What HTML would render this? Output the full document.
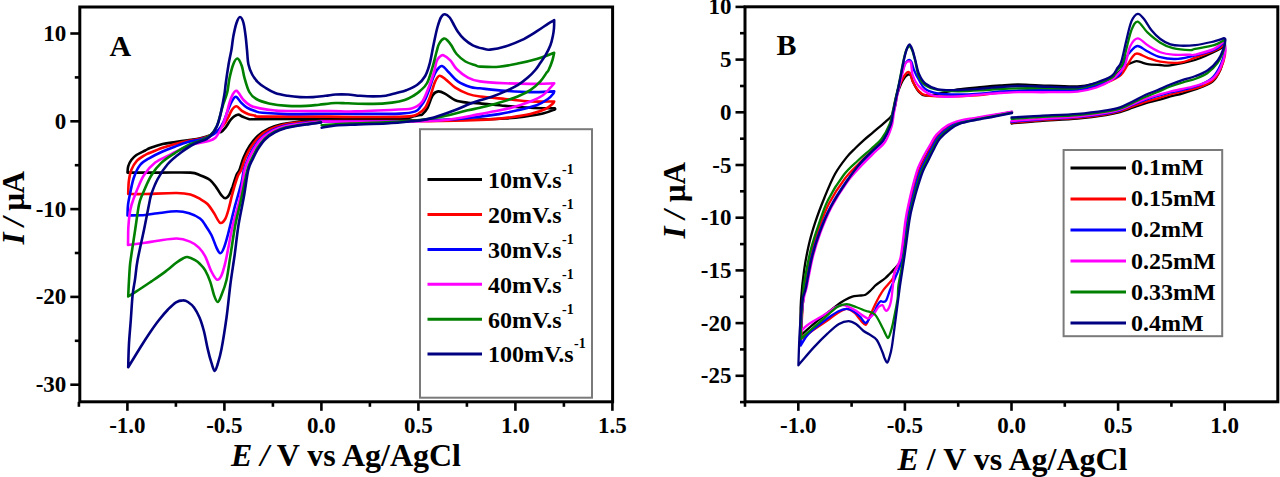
<!DOCTYPE html>
<html><head><meta charset="utf-8"><style>
html,body{margin:0;padding:0;background:#fff;}
svg{display:block;}
</style></head><body>
<svg width="1280" height="477" viewBox="0 0 1280 477">
<rect width="1280" height="477" fill="#fff"/>
<g fill="none" stroke-width="2.6" stroke-linejoin="round" stroke-linecap="round">
<path d="M321.0,120.6 C318.8,120.7 312.2,120.9 307.8,121.2 C303.4,121.5 299.0,121.7 294.6,122.2 C290.2,122.7 285.8,123.3 281.5,124.3 C277.2,125.3 272.9,126.5 269.0,128.4 C265.1,130.3 261.2,132.8 258.0,135.7 C254.8,138.6 252.1,142.2 249.7,145.8 C247.3,149.4 245.3,153.4 243.6,157.4 C241.9,161.4 240.6,167.1 239.4,170.0 C238.2,172.9 237.6,172.3 236.5,175.0 C235.4,177.7 233.9,183.0 232.7,186.4 C231.4,189.8 230.2,193.2 229.0,195.2 C227.8,197.2 226.5,198.3 225.2,198.3 C223.9,198.3 222.9,197.0 221.4,195.2 C219.9,193.4 218.3,190.1 216.4,187.6 C214.5,185.1 212.7,182.1 210.0,180.0 C207.3,177.9 203.3,176.4 200.0,175.2 C196.7,174.0 197.1,173.0 190.4,172.6 C183.7,172.2 170.5,172.6 160.0,172.6 C149.5,172.6 132.9,172.6 127.5,172.6 L127.5,172.6 C127.6,171.6 127.6,168.5 128.2,166.4 C128.8,164.3 129.9,161.9 131.3,160.0 C132.7,158.1 134.1,156.6 136.4,155.0 C138.7,153.4 142.9,151.7 145.2,150.5 C147.5,149.3 147.1,149.1 150.0,148.0 C152.9,146.9 158.4,145.0 162.6,144.0 C166.8,143.0 171.0,142.7 175.2,142.1 C179.4,141.5 183.5,140.8 187.7,140.2 C191.9,139.6 196.5,139.1 200.3,138.3 C204.1,137.5 207.8,136.4 210.4,135.2 C213.0,134.0 214.2,131.5 216.0,131.0 C217.8,130.5 219.3,132.7 221.0,132.0 C222.7,131.3 224.3,129.0 226.0,126.9 C227.7,124.8 229.1,121.3 231.0,119.3 C232.9,117.3 235.7,115.1 237.7,114.7 C239.7,114.3 241.0,116.1 242.8,116.8 C244.6,117.5 246.6,118.5 248.6,118.9 C250.6,119.3 246.4,119.3 255.0,119.3 C263.6,119.3 283.3,119.1 300.0,118.9 C316.7,118.7 337.5,118.5 355.0,118.3 C372.5,118.1 395.4,118.3 405.0,118.0 C414.6,117.7 409.9,117.1 412.5,116.6 C415.1,116.1 418.7,115.5 420.4,115.1 C422.1,114.7 421.4,115.3 422.6,114.1 C423.8,112.9 425.9,110.9 427.6,107.8 C429.3,104.7 430.9,97.9 432.7,95.2 C434.5,92.5 436.2,91.6 438.3,91.4 C440.4,91.2 442.5,92.4 445.3,93.9 C448.1,95.4 451.5,98.7 455.3,100.2 C459.1,101.7 463.8,102.2 467.9,102.7 C472.0,103.2 473.8,102.9 480.0,103.4 C486.2,103.9 496.8,105.2 505.2,105.9 C513.6,106.6 522.0,107.4 530.3,107.8 C538.6,108.2 550.7,108.3 554.8,108.4 L554.8,108.4 C554.7,108.6 556.2,108.9 554.2,109.7 C552.2,110.5 547.9,112.3 542.9,113.5 C537.9,114.7 530.3,115.8 524.0,116.6 C517.7,117.4 512.5,118.0 505.2,118.5 C497.9,119.0 490.9,119.2 480.0,119.5 C469.1,119.8 453.3,119.8 440.0,120.0 C426.7,120.2 419.7,120.4 400.0,120.5 C380.3,120.6 334.8,120.5 321.7,120.5" stroke="#000000" />
<path d="M321.0,121.0 C318.9,121.1 312.4,121.5 308.1,121.8 C303.8,122.1 299.5,122.4 295.2,122.9 C290.9,123.4 286.6,124.0 282.4,125.0 C278.2,126.0 274.0,127.3 270.2,129.2 C266.4,131.1 262.6,133.5 259.5,136.4 C256.4,139.3 253.8,142.9 251.4,146.4 C249.1,149.9 247.1,153.8 245.4,157.7 C243.7,161.6 242.5,166.9 241.2,170.0 C239.9,173.1 239.1,172.5 237.7,176.3 C236.3,180.1 234.1,187.4 232.7,192.6 C231.2,197.8 230.2,203.3 229.0,207.7 C227.8,212.1 226.7,216.5 225.2,219.0 C223.7,221.5 222.0,223.8 220.1,222.8 C218.2,221.8 215.9,215.9 213.8,212.8 C211.7,209.7 209.8,206.3 207.5,204.0 C205.2,201.7 202.8,200.5 200.0,198.9 C197.2,197.3 194.3,195.5 190.4,194.5 C186.5,193.5 184.2,193.1 176.6,193.0 C169.0,192.9 153.1,193.8 145.0,194.0 C136.9,194.2 131.0,194.0 128.2,194.0 L128.2,194.0 C128.3,191.9 128.3,185.4 128.8,181.4 C129.3,177.4 130.0,173.3 131.3,170.0 C132.6,166.7 134.1,163.8 136.4,161.3 C138.7,158.8 142.9,156.4 145.2,155.0 C147.5,153.6 147.1,154.0 150.0,152.8 C152.9,151.6 158.4,149.3 162.6,147.8 C166.8,146.3 171.0,145.1 175.2,144.0 C179.4,142.9 183.5,141.9 187.7,141.0 C191.9,140.1 196.5,139.7 200.3,138.8 C204.1,137.9 207.5,136.9 210.4,135.5 C213.3,134.1 215.7,132.4 218.0,130.5 C220.3,128.6 222.6,126.3 224.3,124.0 C226.1,121.7 227.2,119.1 228.5,116.8 C229.8,114.5 230.5,111.8 231.8,110.1 C233.1,108.3 234.8,106.2 236.5,106.3 C238.2,106.4 239.9,109.6 241.9,110.9 C243.9,112.2 246.4,113.5 248.6,114.3 C250.8,115.1 252.7,115.2 255.0,115.6 C257.3,116.0 250.1,116.4 262.6,116.6 C275.1,116.8 314.6,116.5 330.0,116.6 C345.4,116.7 342.5,117.0 355.0,117.0 C367.5,117.0 394.6,117.1 405.0,116.6 C415.4,116.1 414.2,115.6 417.6,114.1 C421.0,112.6 423.0,110.8 425.1,107.8 C427.2,104.8 428.5,100.8 430.2,96.4 C431.9,92.0 433.6,84.9 435.2,81.4 C436.8,78.0 437.7,75.9 439.6,75.7 C441.5,75.5 443.9,78.1 446.5,80.1 C449.1,82.1 451.7,85.3 455.3,87.6 C458.9,89.9 463.8,92.4 467.9,93.9 C472.0,95.4 473.8,95.7 480.0,96.5 C486.2,97.3 496.8,98.2 505.2,99.0 C513.6,99.8 522.1,101.1 530.3,101.5 C538.5,101.9 550.2,101.5 554.2,101.5 L554.2,101.5 C554.0,101.8 554.5,102.2 553.0,103.4 C551.5,104.7 549.2,107.2 545.4,109.0 C541.6,110.8 536.0,112.7 530.3,114.1 C524.6,115.5 519.8,116.2 511.4,117.2 C503.0,118.2 491.9,119.4 480.0,120.0 C468.1,120.6 453.3,120.8 440.0,121.0 C426.7,121.2 419.7,121.0 400.0,121.0 C380.3,121.0 334.8,121.0 321.7,121.0" stroke="#ff0000" />
<path d="M321.0,121.5 C318.9,121.7 312.6,122.2 308.5,122.6 C304.4,123.0 300.2,123.4 296.1,124.0 C292.0,124.6 287.7,125.0 283.7,126.1 C279.7,127.2 275.6,128.5 271.9,130.4 C268.2,132.3 264.7,134.7 261.7,137.5 C258.7,140.3 256.1,143.8 253.9,147.2 C251.7,150.6 249.9,154.4 248.2,158.2 C246.5,162.0 245.0,165.9 243.9,170.0 C242.8,174.1 242.9,176.7 241.5,182.6 C240.1,188.5 237.1,198.1 235.2,205.2 C233.3,212.3 231.5,220.0 230.3,225.0 C229.1,230.0 228.9,231.2 227.8,235.0 C226.8,238.8 225.2,244.5 224.0,247.6 C222.8,250.7 221.6,253.3 220.3,253.3 C219.1,253.3 218.0,250.7 216.5,247.6 C215.0,244.5 213.3,238.8 211.4,235.0 C209.5,231.2 207.1,227.8 205.2,225.0 C203.3,222.2 202.7,220.5 200.0,218.5 C197.3,216.5 193.1,214.4 189.2,213.2 C185.3,212.0 181.8,211.3 176.6,211.3 C171.3,211.3 162.9,212.6 157.7,213.2 C152.5,213.8 150.2,214.6 145.2,215.0 C140.2,215.4 130.4,215.4 127.5,215.5 L127.5,215.5 C127.6,213.8 127.6,208.6 128.0,205.0 C128.4,201.4 129.0,198.6 130.0,194.0 C131.0,189.4 132.1,182.5 133.8,177.7 C135.5,172.9 137.4,168.3 140.1,165.0 C142.8,161.7 146.2,160.1 150.0,157.8 C153.8,155.6 158.4,153.4 162.6,151.5 C166.8,149.6 171.0,148.1 175.2,146.5 C179.4,144.9 183.5,143.3 187.7,142.1 C191.9,140.9 196.5,140.5 200.3,139.5 C204.1,138.5 207.5,137.5 210.4,136.0 C213.3,134.5 215.8,132.8 218.0,130.5 C220.2,128.2 221.8,125.4 223.5,122.0 C225.2,118.6 226.6,113.5 228.0,110.0 C229.4,106.5 230.7,103.2 232.0,101.0 C233.3,98.8 234.5,96.4 236.0,96.7 C237.5,97.0 239.3,100.8 241.1,102.6 C242.9,104.4 244.7,106.2 247.0,107.6 C249.3,109.0 252.4,110.1 255.0,111.0 C257.6,111.9 257.2,112.3 262.6,112.8 C268.1,113.3 276.5,113.9 287.7,114.1 C298.9,114.2 318.8,113.7 330.0,113.7 C341.2,113.7 343.3,113.9 355.0,113.9 C366.7,113.9 389.9,114.0 400.0,113.6 C410.1,113.2 411.9,112.7 415.4,111.4 C418.9,110.1 419.3,108.1 421.0,106.0 C422.7,103.9 424.1,101.7 425.4,99.0 C426.7,96.3 427.7,93.5 429.0,90.0 C430.3,86.5 431.7,81.3 433.0,78.0 C434.3,74.7 435.5,72.0 437.0,70.0 C438.5,68.0 440.0,65.6 442.0,66.0 C444.0,66.4 446.4,69.9 449.0,72.5 C451.6,75.1 454.2,79.0 457.8,81.4 C461.4,83.8 466.7,85.8 470.4,87.0 C474.1,88.2 474.2,87.7 480.0,88.3 C485.8,88.9 496.8,90.2 505.2,90.8 C513.6,91.4 522.1,92.0 530.3,92.1 C538.5,92.2 550.2,91.5 554.2,91.4 L554.2,91.4 C554.0,91.8 554.0,92.7 553.0,94.0 C552.0,95.3 550.6,97.1 547.9,99.0 C545.2,100.9 541.6,103.4 536.6,105.3 C531.6,107.2 524.0,108.8 517.7,110.3 C511.4,111.8 505.2,113.0 498.9,114.1 C492.6,115.1 488.1,115.7 480.0,116.6 C471.9,117.5 463.3,118.7 450.0,119.5 C436.7,120.3 421.4,121.0 400.0,121.3 C378.6,121.6 334.8,121.5 321.7,121.5" stroke="#0000ff" />
<path d="M321.0,121.7 C318.9,121.9 312.8,122.5 308.7,122.9 C304.6,123.3 300.4,123.7 296.3,124.3 C292.2,124.9 288.2,125.4 284.2,126.5 C280.2,127.6 276.1,128.9 272.5,130.8 C268.9,132.7 265.3,135.0 262.4,137.8 C259.4,140.6 257.0,144.1 254.8,147.5 C252.6,150.9 250.8,154.7 249.1,158.4 C247.4,162.2 246.2,163.4 244.7,170.0 C243.2,176.6 242.0,188.8 240.0,198.0 C238.0,207.2 234.6,217.3 232.8,225.0 C231.0,232.7 230.3,237.6 229.1,243.9 C227.8,250.2 226.6,257.5 225.3,262.7 C224.0,267.9 222.9,272.5 221.5,275.3 C220.1,278.1 218.8,280.3 217.1,279.7 C215.4,279.1 213.4,275.4 211.4,271.5 C209.4,267.6 207.3,260.4 205.2,256.4 C203.1,252.4 201.4,250.1 198.9,247.6 C196.4,245.1 193.7,243.1 190.0,241.6 C186.3,240.1 182.0,238.6 176.6,238.5 C171.2,238.4 162.9,240.1 157.7,240.8 C152.5,241.5 150.1,242.0 145.2,242.7 C140.2,243.4 130.9,244.6 128.0,245.0 L128.0,245.0 C128.1,242.2 128.1,233.0 128.3,228.0 C128.6,223.0 129.0,218.8 129.5,215.0 C130.0,211.2 130.3,208.9 131.5,205.0 C132.7,201.1 134.3,196.5 136.4,191.5 C138.5,186.5 140.8,180.0 143.9,175.2 C147.0,170.4 151.0,165.9 155.2,162.6 C159.4,159.3 164.5,157.6 168.9,155.3 C173.3,153.0 177.2,150.9 181.4,149.0 C185.6,147.1 189.8,145.2 194.0,144.0 C198.2,142.8 203.0,142.6 206.6,141.5 C210.2,140.4 212.9,140.1 215.4,137.7 C217.9,135.3 220.0,130.6 221.8,127.0 C223.6,123.4 224.8,119.9 226.0,116.0 C227.2,112.1 228.2,106.9 229.3,103.4 C230.4,99.9 231.3,97.1 232.5,95.0 C233.7,92.9 234.8,90.0 236.6,90.8 C238.4,91.6 241.3,97.5 243.6,100.0 C245.9,102.5 247.6,104.1 250.3,105.5 C253.0,106.9 255.9,107.6 260.0,108.4 C264.1,109.2 270.4,110.1 275.0,110.5 C279.6,110.9 278.5,110.9 287.7,111.0 C296.9,111.1 318.8,110.9 330.0,111.0 C341.2,111.1 343.6,111.7 355.0,111.4 C366.4,111.2 389.0,110.0 398.4,109.5 C407.8,109.0 407.8,109.6 411.6,108.5 C415.4,107.4 418.7,105.8 421.4,102.7 C424.1,99.7 425.5,95.2 427.6,90.2 C429.7,85.2 432.4,77.3 433.9,72.5 C435.4,67.7 435.6,64.1 436.5,61.5 C437.4,58.9 438.4,58.0 439.5,57.0 C440.6,56.0 441.6,54.7 443.4,55.2 C445.2,55.8 448.1,58.0 450.3,60.3 C452.5,62.6 453.7,66.1 456.6,69.0 C459.5,71.9 464.0,75.5 467.9,77.6 C471.8,79.7 473.8,80.5 480.0,81.4 C486.2,82.4 496.8,82.9 505.2,83.3 C513.6,83.7 522.1,83.9 530.3,83.9 C538.5,83.9 550.2,83.4 554.2,83.3 L554.2,83.3 C553.6,84.0 552.3,85.7 550.4,87.7 C548.5,89.7 546.2,92.9 542.9,95.2 C539.5,97.5 535.5,99.4 530.3,101.5 C525.0,103.6 517.7,106.1 511.4,107.8 C505.1,109.5 497.8,110.5 492.6,111.6 C487.4,112.6 488.3,112.6 480.0,114.1 C471.7,115.5 456.0,119.1 442.7,120.3 C429.4,121.5 420.2,121.3 400.0,121.5 C379.8,121.7 334.8,121.5 321.7,121.5" stroke="#ff00ff" />
<path d="M321.0,122.3 C319.0,122.5 313.1,123.3 309.1,123.8 C305.1,124.3 301.1,124.8 297.2,125.4 C293.3,126.0 289.3,126.5 285.5,127.6 C281.7,128.7 277.8,130.1 274.3,132.0 C270.8,133.9 267.4,136.2 264.6,138.9 C261.8,141.6 259.4,145.0 257.3,148.3 C255.2,151.6 253.5,155.3 251.8,158.9 C250.2,162.5 249.2,163.2 247.4,170.0 C245.6,176.8 243.0,190.8 241.0,200.0 C239.0,209.2 237.1,215.6 235.3,225.0 C233.5,234.4 231.8,247.2 230.3,256.4 C228.8,265.6 228.0,273.6 226.5,280.0 C225.0,286.4 223.0,291.4 221.5,295.1 C220.0,298.8 218.9,302.0 217.7,302.0 C216.4,302.0 215.2,298.5 214.0,295.1 C212.8,291.7 211.7,285.7 210.2,281.6 C208.7,277.5 206.9,273.2 205.2,270.3 C203.5,267.4 201.7,265.7 200.0,264.0 C198.3,262.3 197.2,261.4 195.1,260.2 C193.0,259.0 189.5,257.3 187.5,257.0 C185.5,256.7 184.7,257.6 182.9,258.5 C181.1,259.4 179.8,260.1 176.6,262.5 C173.4,264.9 168.2,269.5 164.0,272.6 C159.8,275.8 156.0,278.3 151.4,281.4 C146.8,284.5 140.3,288.9 136.4,291.4 C132.5,293.9 129.6,295.6 128.2,296.5 L128.2,296.5 C128.3,293.8 128.7,285.2 129.0,280.0 C129.3,274.8 129.6,269.1 130.0,265.0 C130.4,260.9 130.5,261.1 131.3,255.3 C132.2,249.5 133.8,238.6 135.1,230.2 C136.4,221.8 137.7,211.0 138.9,205.0 C140.2,199.0 140.5,199.0 142.6,194.0 C144.7,189.0 148.2,180.4 151.4,175.2 C154.6,170.0 157.5,166.3 161.5,162.6 C165.5,158.9 170.8,155.7 175.2,152.8 C179.6,149.9 183.5,147.3 187.7,145.3 C191.9,143.3 196.5,142.5 200.3,140.8 C204.1,139.1 207.7,137.6 210.4,135.2 C213.1,132.8 215.1,129.6 216.7,126.4 C218.3,123.2 218.9,119.6 220.0,116.0 C221.1,112.4 221.8,108.9 223.0,105.0 C224.2,101.1 226.1,97.0 227.2,92.5 C228.3,88.0 228.5,83.0 229.5,78.3 C230.5,73.6 232.0,67.5 233.3,64.2 C234.6,60.9 236.1,58.2 237.5,58.5 C238.9,58.8 240.6,62.7 241.8,66.0 C243.0,69.3 243.3,74.0 244.6,78.3 C245.8,82.6 247.4,88.5 249.3,92.0 C251.2,95.5 253.0,97.1 256.3,99.0 C259.6,100.9 263.7,102.2 268.9,103.4 C274.1,104.6 281.4,105.5 287.7,105.9 C294.0,106.3 301.4,106.1 306.6,105.9 C311.9,105.7 314.4,105.2 319.2,104.7 C324.0,104.2 330.7,103.2 335.5,103.0 C340.3,102.8 341.7,103.1 348.0,103.3 C354.3,103.5 365.9,104.0 373.2,103.9 C380.5,103.8 386.8,103.2 392.0,102.6 C397.2,102.0 401.1,101.3 404.7,100.1 C408.3,98.9 411.3,97.0 413.9,95.5 C416.4,94.0 417.8,93.1 420.0,91.0 C422.2,88.9 425.0,87.1 427.1,83.0 C429.2,78.9 431.1,71.8 432.7,66.6 C434.3,61.4 435.4,55.8 436.5,52.0 C437.6,48.2 437.8,46.2 439.0,44.0 C440.2,41.8 442.5,39.1 444.0,38.6 C445.5,38.1 446.7,39.8 448.0,41.0 C449.3,42.2 450.2,43.6 451.6,45.8 C453.0,48.0 454.3,51.4 456.6,54.0 C458.9,56.6 462.2,59.6 465.4,61.5 C468.5,63.4 473.1,64.5 475.5,65.3 C477.9,66.1 476.1,66.3 480.0,66.6 C483.9,66.8 492.6,67.3 498.9,66.8 C505.2,66.3 511.4,64.9 517.7,63.6 C524.0,62.3 530.5,60.8 536.6,59.0 C542.7,57.2 551.3,53.8 554.2,52.8 L554.2,52.8 C553.9,54.0 553.4,57.1 552.5,60.0 C551.6,62.9 549.6,67.9 548.6,70.0 C547.6,72.1 548.1,70.7 546.7,72.6 C545.3,74.5 543.1,78.5 540.4,81.4 C537.7,84.3 534.1,87.7 530.3,90.2 C526.5,92.7 522.9,94.4 517.7,96.5 C512.5,98.6 505.2,100.9 498.9,102.8 C492.6,104.7 485.2,106.5 480.0,107.8 C474.8,109.0 474.1,108.8 467.9,110.3 C461.7,111.8 450.7,115.0 442.7,116.6 C434.7,118.2 429.6,119.0 420.0,120.0 C410.4,121.0 396.7,121.7 385.0,122.3 C373.3,122.9 360.6,123.0 350.0,123.5 C339.4,124.0 326.4,124.9 321.7,125.2" stroke="#008000" />
<path d="M321.0,122.5 C319.1,122.8 313.2,123.6 309.3,124.1 C305.4,124.6 301.4,125.0 297.5,125.7 C293.6,126.4 289.7,126.9 285.9,128.0 C282.1,129.1 278.3,130.5 274.9,132.4 C271.5,134.3 268.1,136.5 265.3,139.2 C262.5,141.9 260.3,145.3 258.2,148.6 C256.1,151.9 254.5,155.4 252.8,159.0 C251.2,162.6 249.8,163.8 248.3,170.0 C246.8,176.2 245.6,186.8 244.0,196.0 C242.4,205.2 240.1,215.0 238.5,225.0 C236.9,235.0 235.9,246.0 234.5,256.0 C233.1,266.0 231.6,274.7 230.3,285.0 C229.0,295.3 228.0,307.1 226.5,317.7 C225.0,328.3 223.0,341.2 221.5,348.9 C220.0,356.6 218.8,360.3 217.7,364.0 C216.5,367.7 215.6,371.1 214.6,370.9 C213.6,370.7 212.6,366.4 211.4,362.7 C210.2,359.0 208.9,354.2 207.7,348.9 C206.4,343.6 205.3,336.2 203.9,331.0 C202.5,325.8 201.2,321.4 199.5,317.5 C197.8,313.6 195.9,310.1 194.0,307.5 C192.1,304.9 189.8,303.2 188.0,302.0 C186.2,300.8 184.9,300.3 182.9,300.4 C180.9,300.4 178.5,300.8 176.0,302.3 C173.5,303.8 170.8,306.6 168.0,309.5 C165.2,312.4 162.0,316.2 159.0,320.0 C156.0,323.8 153.2,327.8 150.0,332.5 C146.8,337.2 143.6,342.2 140.0,348.0 C136.4,353.8 130.2,364.0 128.2,367.2 L128.2,367.2 C128.3,363.5 128.5,353.1 128.9,345.2 C129.3,337.3 130.2,328.3 130.8,320.0 C131.4,311.7 131.9,302.1 132.6,295.2 C133.3,288.3 134.3,284.8 135.1,278.9 C135.9,273.0 136.1,268.1 137.6,260.0 C139.1,251.9 142.0,239.4 143.9,230.2 C145.8,221.0 147.7,211.0 148.9,205.0 C150.2,199.0 149.9,198.3 151.4,194.0 C152.9,189.7 155.0,184.0 157.7,179.0 C160.4,174.0 163.9,168.4 167.8,164.0 C171.7,159.6 176.6,155.8 181.0,152.5 C185.4,149.2 189.7,146.2 194.0,144.0 C198.3,141.8 203.4,140.8 206.6,139.0 C209.8,137.2 211.3,135.2 213.0,133.0 C214.7,130.8 215.8,128.8 217.0,126.0 C218.2,123.2 218.9,121.2 220.1,116.0 C221.3,110.8 223.4,100.5 224.3,95.0 C225.2,89.5 225.1,88.1 225.8,83.0 C226.5,77.9 227.7,69.7 228.6,64.2 C229.5,58.7 230.6,54.6 231.4,50.0 C232.2,45.4 232.5,40.9 233.3,36.4 C234.2,31.9 235.4,26.2 236.5,23.0 C237.6,19.8 238.8,17.0 240.0,17.0 C241.2,17.0 242.6,19.8 243.5,23.0 C244.4,26.2 245.0,31.5 245.6,36.0 C246.2,40.5 246.5,45.3 247.0,50.0 C247.5,54.7 247.5,60.1 248.4,64.2 C249.3,68.3 250.6,71.5 252.2,74.5 C253.8,77.5 255.7,79.9 257.8,82.1 C259.9,84.3 262.1,85.7 265.0,87.5 C267.9,89.3 271.4,91.6 275.2,93.0 C279.0,94.4 283.5,95.1 287.7,95.8 C291.9,96.5 296.1,96.9 300.3,97.1 C304.5,97.3 308.7,97.3 312.9,97.1 C317.1,96.9 321.7,96.2 325.5,95.8 C329.3,95.4 331.8,94.7 335.5,94.5 C339.2,94.3 343.9,94.3 348.0,94.5 C352.1,94.7 355.8,95.5 360.0,95.8 C364.2,96.1 368.9,96.4 373.2,96.4 C377.5,96.4 381.6,96.3 385.8,95.7 C390.0,95.1 395.0,93.5 398.4,92.6 C401.8,91.7 403.1,91.5 406.3,90.2 C409.5,88.9 414.5,86.9 417.6,84.5 C420.8,82.1 423.1,79.6 425.2,76.0 C427.2,72.4 428.5,68.1 429.9,62.8 C431.3,57.5 432.4,50.0 433.7,44.0 C435.0,38.0 436.2,31.5 437.5,27.0 C438.8,22.5 439.9,19.1 441.2,17.0 C442.4,14.9 443.6,14.1 445.0,14.2 C446.4,14.3 448.3,15.9 449.7,17.5 C451.1,19.1 451.9,21.2 453.2,23.5 C454.5,25.8 455.9,28.8 457.7,31.4 C459.5,34.0 461.5,36.7 464.0,39.0 C466.5,41.3 469.7,43.7 472.8,45.3 C475.9,46.9 480.0,47.9 482.9,48.6 C485.8,49.3 486.4,50.0 490.1,49.6 C493.8,49.2 500.0,48.1 505.2,46.5 C510.4,44.9 516.3,42.7 521.5,40.2 C526.7,37.7 532.2,34.1 536.6,31.4 C541.0,28.7 545.0,25.7 547.9,23.8 C550.8,21.9 553.2,20.7 554.2,20.1 L554.2,20.1 C554.2,21.4 554.2,25.5 554.0,28.0 C553.8,30.5 553.6,32.3 553.0,35.2 C552.4,38.1 551.7,41.9 550.4,45.2 C549.1,48.6 547.1,52.4 545.4,55.3 C543.7,58.2 542.1,60.3 540.4,62.8 C538.7,65.2 537.4,67.5 535.3,70.0 C533.2,72.5 530.7,75.1 527.8,77.6 C524.9,80.1 521.5,82.9 517.7,85.2 C513.9,87.5 509.4,89.5 505.2,91.4 C501.0,93.3 496.8,95.0 492.6,96.5 C488.4,98.0 483.8,99.1 480.0,100.3 C476.2,101.5 474.1,102.2 470.0,103.8 C465.9,105.4 460.7,107.9 455.3,110.0 C449.9,112.1 442.7,114.6 437.6,116.2 C432.6,117.8 429.3,118.8 425.0,119.6 C420.7,120.4 418.0,120.6 411.6,121.3 C405.2,122.0 395.8,123.0 386.4,123.5 C377.0,124.0 363.5,124.3 355.0,124.6 C346.5,124.9 341.1,125.0 335.5,125.5 C329.9,126.0 324.0,127.3 321.7,127.7" stroke="#000080" />
</g>
<g fill="none" stroke-width="2.3" stroke-linejoin="round" stroke-linecap="round">
<path d="M1012.0,112.0 C1009.0,112.5 1000.4,114.1 994.3,115.2 C988.2,116.3 981.2,117.5 975.5,118.5 C969.8,119.5 964.5,120.2 960.0,121.5 C955.5,122.8 952.5,123.8 948.8,126.2 C945.0,128.6 940.4,132.4 937.5,135.7 C934.6,139.0 933.2,142.7 931.2,146.2 C929.2,149.7 927.4,153.0 925.4,156.8 C923.4,160.6 921.3,164.2 919.5,168.9 C917.7,173.6 916.1,179.5 914.6,185.0 C913.1,190.5 911.7,196.2 910.4,202.0 C909.1,207.8 908.2,210.7 906.7,220.0 C905.2,229.3 903.9,249.3 901.6,257.7 C899.3,266.1 895.2,267.5 893.1,270.3 C891.0,273.1 890.2,273.2 889.0,274.5 C887.8,275.8 887.1,276.6 885.6,277.9 C884.1,279.1 881.7,280.8 880.0,282.0 C878.3,283.2 877.0,284.1 875.5,285.4 C874.0,286.7 872.8,288.4 871.1,290.0 C869.4,291.6 867.5,293.8 865.5,294.7 C863.5,295.6 861.2,295.4 859.0,295.7 C856.8,296.0 854.6,295.9 852.3,296.6 C850.0,297.3 847.5,298.6 845.0,300.0 C842.5,301.4 841.7,301.7 837.2,305.1 C832.8,308.5 824.3,315.2 818.3,320.2 C812.3,325.2 804.2,332.1 801.3,335.3 C798.4,338.5 800.8,338.6 800.7,339.3 L800.7,339.3 C800.7,336.1 800.5,326.6 800.5,320.0 C800.5,313.4 800.4,308.4 801.0,300.0 C801.6,291.6 802.9,278.9 804.2,269.7 C805.5,260.4 807.1,252.4 808.9,244.5 C810.7,236.6 812.6,230.3 815.2,222.4 C817.8,214.5 821.3,205.3 824.6,197.2 C827.9,189.1 831.3,180.7 835.0,174.0 C838.7,167.3 843.4,161.4 846.8,157.1 C850.2,152.8 852.7,150.8 855.5,148.0 C858.3,145.2 860.6,143.0 863.6,140.3 C866.6,137.6 870.0,135.0 873.6,131.9 C877.2,128.8 882.3,124.6 885.4,121.8 C888.5,119.0 890.4,117.9 892.1,115.1 C893.8,112.3 894.6,108.3 895.4,105.0 C896.2,101.7 896.2,98.5 897.1,95.0 C898.0,91.5 899.7,87.0 901.0,84.0 C902.3,81.0 903.8,78.6 905.0,77.0 C906.2,75.4 907.3,74.7 908.3,74.5 C909.3,74.3 910.2,74.8 911.0,76.0 C911.8,77.2 911.7,79.3 913.0,82.0 C914.3,84.7 917.0,89.7 919.0,92.0 C921.0,94.3 922.1,95.3 925.3,95.6 C928.4,95.9 932.5,95.0 937.9,94.0 C943.3,93.0 950.2,90.7 957.7,89.5 C965.2,88.3 975.9,87.7 982.9,87.0 C989.9,86.3 994.1,85.9 1000.0,85.5 C1005.9,85.1 1011.3,84.5 1018.0,84.5 C1024.7,84.5 1030.0,85.0 1040.0,85.3 C1050.0,85.6 1068.3,86.7 1077.7,86.3 C1087.1,85.9 1090.9,84.4 1096.6,83.0 C1102.3,81.6 1107.8,80.0 1111.7,78.0 C1115.6,76.0 1117.8,73.0 1120.0,71.0 C1122.2,69.0 1123.2,67.3 1125.0,66.0 C1126.8,64.7 1128.7,64.1 1130.6,63.3 C1132.5,62.5 1134.7,61.4 1136.4,61.2 C1138.1,61.0 1139.1,61.7 1141.0,62.2 C1142.9,62.7 1144.5,63.6 1147.7,64.1 C1150.9,64.6 1156.3,64.8 1160.0,65.0 C1163.7,65.2 1164.2,66.1 1170.0,65.3 C1175.8,64.5 1187.0,62.5 1195.0,60.0 C1203.0,57.5 1213.0,52.5 1218.0,50.0 C1223.0,47.5 1223.8,45.8 1225.0,45.0 L1225.0,45.0 C1224.8,46.8 1224.8,51.9 1224.0,56.0 C1223.2,60.1 1222.3,65.5 1220.4,69.8 C1218.5,74.0 1216.2,78.5 1212.8,81.5 C1209.4,84.5 1205.0,85.6 1200.0,87.6 C1195.0,89.6 1187.9,91.8 1182.9,93.3 C1178.0,94.8 1174.5,95.2 1170.3,96.4 C1166.1,97.6 1161.9,99.1 1157.7,100.2 C1153.5,101.3 1149.4,102.0 1145.2,103.3 C1141.0,104.5 1136.8,106.2 1132.6,107.7 C1128.4,109.2 1124.4,110.9 1120.0,112.1 C1115.6,113.3 1113.0,113.9 1106.0,115.0 C1099.0,116.1 1088.7,117.5 1077.7,118.5 C1066.7,119.5 1051.0,120.2 1040.0,121.0 C1029.0,121.8 1016.2,123.1 1011.5,123.5" stroke="#000000" />
<path d="M1012.0,112.2 C1009.0,112.7 1000.4,114.3 994.3,115.4 C988.2,116.5 981.2,117.6 975.5,118.7 C969.8,119.8 964.4,120.5 960.0,121.8 C955.6,123.1 952.7,124.2 949.0,126.6 C945.3,129.0 940.8,132.8 937.9,136.1 C935.0,139.4 933.6,143.1 931.6,146.6 C929.6,150.1 927.7,153.5 925.8,157.3 C923.9,161.1 921.8,164.6 920.0,169.2 C918.2,173.8 916.6,179.5 915.1,185.0 C913.6,190.5 912.1,196.2 910.8,202.0 C909.5,207.8 908.6,210.7 907.1,220.0 C905.6,229.3 903.9,249.4 902.0,257.7 C900.1,266.0 897.0,266.6 895.5,270.0 C894.0,273.4 894.4,275.5 893.1,277.9 C891.9,280.3 889.7,282.4 888.0,284.5 C886.3,286.6 884.6,288.3 883.1,290.4 C881.6,292.5 880.4,294.6 879.0,297.0 C877.6,299.4 876.3,302.1 874.9,305.1 C873.5,308.1 871.7,312.2 870.5,315.0 C869.3,317.8 868.3,320.4 867.5,322.0 C866.7,323.6 866.4,324.9 865.5,324.9 C864.6,324.9 863.2,323.3 862.0,322.0 C860.8,320.7 859.3,318.6 858.0,317.0 C856.7,315.4 856.1,314.0 854.2,312.6 C852.3,311.2 849.5,308.8 846.6,308.9 C843.7,309.0 840.1,311.6 837.0,313.5 C833.9,315.4 831.5,317.5 827.7,320.2 C823.9,322.9 818.4,326.4 814.0,329.5 C809.6,332.6 803.4,337.4 801.3,339.0 L801.3,339.0 C801.4,335.5 801.6,325.8 802.0,318.0 C802.4,310.2 803.3,297.5 803.8,292.0 C804.3,286.5 803.8,291.3 805.0,285.0 C806.2,278.7 808.9,263.4 811.2,254.0 C813.5,244.6 816.0,236.9 819.0,228.5 C822.0,220.1 824.7,211.8 829.0,203.5 C833.3,195.2 839.9,185.2 845.0,178.5 C850.1,171.8 855.0,167.7 859.5,163.0 C864.0,158.3 868.2,154.3 872.0,150.5 C875.8,146.7 879.3,144.2 882.3,140.0 C885.3,135.8 888.2,129.6 890.0,125.0 C891.8,120.4 891.9,116.8 892.8,112.6 C893.7,108.4 894.4,104.1 895.4,100.0 C896.4,95.9 897.3,91.7 898.6,88.0 C899.9,84.3 901.8,80.4 903.0,78.0 C904.2,75.6 905.1,74.5 906.0,73.5 C906.9,72.5 907.5,71.9 908.3,72.0 C909.0,72.1 909.8,72.4 910.5,74.0 C911.2,75.6 911.3,78.5 912.7,81.4 C914.1,84.3 916.9,89.1 919.0,91.4 C921.1,93.7 922.1,94.4 925.3,95.2 C928.4,96.0 932.5,96.1 937.9,96.3 C943.3,96.5 950.2,96.5 957.7,96.3 C965.2,96.0 975.9,95.4 982.9,94.8 C989.9,94.2 990.5,93.2 1000.0,92.6 C1009.5,92.0 1027.0,91.3 1040.0,91.0 C1053.0,90.7 1068.3,91.3 1077.7,90.5 C1087.1,89.7 1090.9,87.9 1096.6,86.2 C1102.3,84.5 1107.6,82.4 1111.7,80.5 C1115.8,78.6 1118.5,77.4 1121.0,75.0 C1123.5,72.6 1125.2,68.9 1127.0,66.0 C1128.8,63.1 1130.3,59.6 1132.0,57.5 C1133.7,55.4 1134.4,53.5 1137.0,53.5 C1139.6,53.5 1143.8,56.4 1147.7,57.8 C1151.6,59.1 1155.0,60.8 1160.3,61.6 C1165.5,62.4 1173.4,63.4 1179.2,62.7 C1185.0,62.1 1188.8,60.0 1195.2,57.7 C1201.7,55.4 1213.1,51.2 1217.9,48.9 C1222.7,46.6 1223.2,44.7 1224.2,43.9 L1224.2,43.9 C1224.3,45.8 1225.6,50.7 1225.0,55.0 C1224.4,59.3 1222.4,65.2 1220.4,69.5 C1218.4,73.8 1216.0,77.7 1212.8,80.5 C1209.6,83.3 1205.5,84.9 1201.5,86.5 C1197.5,88.1 1194.1,88.7 1188.9,90.0 C1183.7,91.3 1175.5,93.1 1170.3,94.5 C1165.1,95.9 1161.9,97.1 1157.7,98.3 C1153.5,99.5 1149.4,100.4 1145.2,101.8 C1141.0,103.2 1136.8,104.9 1132.6,106.5 C1128.4,108.1 1124.4,109.9 1120.0,111.2 C1115.6,112.5 1113.0,113.2 1106.0,114.3 C1099.0,115.4 1088.7,116.8 1077.7,117.8 C1066.7,118.8 1051.0,119.5 1040.0,120.3 C1029.0,121.1 1016.2,122.2 1011.5,122.6" stroke="#ff0000" />
<path d="M1012.0,112.4 C1009.0,112.9 1000.4,114.5 994.3,115.6 C988.2,116.7 981.2,117.9 975.5,119.0 C969.8,120.1 964.4,120.9 960.0,122.3 C955.6,123.7 953.0,124.8 949.4,127.2 C945.8,129.6 941.3,133.4 938.4,136.7 C935.5,140.0 934.2,143.6 932.2,147.2 C930.2,150.8 928.4,154.2 926.5,158.0 C924.6,161.8 922.6,165.2 920.8,169.7 C919.0,174.2 917.4,179.6 915.9,185.0 C914.4,190.4 912.9,196.2 911.5,202.0 C910.1,207.8 909.2,210.7 907.7,220.0 C906.2,229.3 904.6,248.2 902.6,257.7 C900.6,267.2 897.6,271.6 895.5,277.0 C893.4,282.4 891.5,286.1 890.0,290.0 C888.5,293.9 887.4,298.4 886.2,300.4 C885.0,302.4 883.9,301.6 883.0,301.8 C882.1,302.0 881.5,300.8 880.6,301.3 C879.7,301.8 878.5,303.4 877.5,305.0 C876.5,306.6 876.1,308.7 874.9,310.8 C873.6,312.9 871.6,315.5 870.0,317.5 C868.4,319.5 867.2,323.2 865.5,323.0 C863.8,322.8 861.9,318.4 859.8,316.4 C857.7,314.4 855.2,312.2 853.0,311.0 C850.8,309.8 849.1,308.8 846.6,308.9 C844.1,309.0 841.1,309.9 838.0,311.5 C834.9,313.1 832.6,314.7 827.7,318.3 C822.9,321.9 813.4,328.8 808.9,333.4 C804.4,337.9 802.1,343.6 800.7,345.6 L800.7,345.6 C800.8,341.3 801.0,327.9 801.5,320.0 C802.0,312.1 802.8,303.2 803.5,298.0 C804.2,292.8 804.1,295.8 805.5,289.0 C806.9,282.2 809.3,266.6 811.6,257.1 C813.9,247.6 816.4,240.3 819.5,231.9 C822.6,223.5 826.0,215.1 830.5,206.7 C835.0,198.3 841.3,188.6 846.3,181.5 C851.3,174.4 855.9,169.1 860.4,164.0 C864.9,158.9 869.2,154.8 873.0,151.0 C876.8,147.2 880.2,145.2 883.1,141.0 C886.0,136.8 888.9,130.7 890.6,126.0 C892.3,121.3 892.2,117.3 893.1,113.0 C894.0,108.7 894.7,104.6 895.7,100.0 C896.7,95.4 897.5,90.9 898.9,85.2 C900.3,79.5 902.9,70.0 904.2,66.0 C905.5,62.0 906.0,62.5 906.8,61.5 C907.6,60.5 908.4,59.7 909.2,59.8 C910.0,59.9 910.7,60.3 911.5,62.0 C912.3,63.7 912.8,67.0 914.0,70.0 C915.2,73.0 917.1,76.8 919.0,80.0 C920.9,83.2 922.1,86.8 925.3,89.0 C928.4,91.2 932.5,92.6 937.9,93.5 C943.3,94.4 950.2,94.5 957.7,94.5 C965.2,94.5 975.9,93.8 982.9,93.3 C989.9,92.8 990.5,92.0 1000.0,91.5 C1009.5,91.0 1027.0,90.3 1040.0,90.0 C1053.0,89.7 1068.3,90.6 1077.7,89.8 C1087.1,89.0 1090.9,86.9 1096.6,85.2 C1102.3,83.5 1107.8,81.4 1111.7,79.5 C1115.6,77.6 1117.6,77.6 1120.0,74.0 C1122.4,70.4 1124.2,61.8 1126.0,58.0 C1127.8,54.2 1129.0,53.0 1131.0,51.0 C1133.0,49.0 1134.9,45.9 1137.7,46.0 C1140.5,46.1 1143.9,49.6 1147.7,51.5 C1151.5,53.4 1155.7,56.0 1160.3,57.2 C1164.9,58.5 1170.5,59.1 1175.4,59.0 C1180.4,58.9 1183.6,58.1 1190.0,56.6 C1196.4,55.1 1208.3,52.4 1214.0,50.0 C1219.7,47.6 1222.5,43.3 1224.2,42.0 L1224.2,42.0 C1224.3,43.3 1225.5,46.3 1225.0,50.0 C1224.5,53.7 1223.0,59.5 1221.0,64.0 C1219.0,68.5 1216.3,73.6 1213.0,77.0 C1209.7,80.4 1205.0,82.6 1201.0,84.5 C1197.0,86.4 1194.0,87.2 1188.9,88.5 C1183.8,89.8 1175.5,91.2 1170.3,92.5 C1165.1,93.8 1161.9,94.8 1157.7,96.0 C1153.5,97.2 1149.4,98.5 1145.2,100.0 C1141.0,101.5 1136.8,103.3 1132.6,105.0 C1128.4,106.7 1124.4,108.9 1120.0,110.3 C1115.6,111.7 1113.0,112.4 1106.0,113.5 C1099.0,114.6 1088.7,116.0 1077.7,117.0 C1066.7,118.0 1051.0,118.8 1040.0,119.6 C1029.0,120.4 1016.2,121.4 1011.5,121.8" stroke="#0000ff" />
<path d="M1012.0,111.6 C1009.0,112.1 1000.4,113.6 994.3,114.6 C988.2,115.6 981.2,116.8 975.5,117.8 C969.8,118.8 964.6,119.3 960.0,120.5 C955.4,121.7 951.9,122.7 948.0,125.0 C944.1,127.3 939.5,131.2 936.5,134.5 C933.5,137.8 932.1,141.5 930.0,145.0 C927.9,148.5 926.0,151.7 924.0,155.5 C922.0,159.3 919.8,163.1 918.0,168.0 C916.2,172.9 914.5,179.3 913.0,185.0 C911.5,190.7 910.2,196.2 909.0,202.0 C907.8,207.8 906.9,210.7 905.5,220.0 C904.1,229.3 902.3,249.0 900.5,257.7 C898.7,266.4 895.8,267.4 894.5,272.0 C893.2,276.6 893.5,280.7 893.0,285.0 C892.5,289.3 892.0,294.6 891.5,298.0 C891.0,301.4 890.6,303.2 890.0,305.1 C889.4,307.0 888.6,308.6 888.0,309.5 C887.4,310.4 886.8,310.9 886.2,310.8 C885.6,310.7 885.1,309.9 884.5,309.0 C883.9,308.1 883.5,305.4 882.5,305.1 C881.5,304.8 879.8,305.8 878.5,307.0 C877.2,308.2 876.2,310.9 874.9,312.6 C873.6,314.3 871.8,316.1 870.5,317.0 C869.2,317.9 868.8,318.6 867.4,318.3 C866.0,318.0 863.9,316.2 862.0,315.0 C860.1,313.8 858.2,312.1 856.0,310.8 C853.8,309.5 851.2,307.9 849.0,307.0 C846.8,306.1 845.1,305.0 842.8,305.1 C840.5,305.2 837.5,306.2 835.0,307.5 C832.5,308.8 832.1,309.9 827.7,312.6 C823.4,315.4 813.4,320.9 808.9,324.0 C804.4,327.1 802.1,330.2 800.7,331.4 L800.7,331.4 C800.9,327.8 801.4,316.1 802.0,310.0 C802.6,303.9 803.8,298.7 804.5,295.0 C805.2,291.3 805.1,294.3 806.5,288.0 C807.9,281.7 810.4,266.5 812.8,257.1 C815.2,247.8 817.6,240.3 820.7,231.9 C823.9,223.5 827.2,215.1 831.7,206.7 C836.2,198.3 842.5,188.4 847.5,181.5 C852.5,174.6 857.3,170.0 862.0,165.0 C866.7,160.0 871.7,155.3 875.5,151.5 C879.3,147.7 882.3,146.1 885.0,142.0 C887.7,137.9 890.0,131.7 891.5,127.0 C893.0,122.3 893.0,118.5 893.8,114.0 C894.6,109.5 895.3,104.8 896.3,100.0 C897.2,95.2 898.1,90.9 899.5,85.2 C900.9,79.5 903.2,69.9 904.5,66.0 C905.8,62.1 906.2,62.8 907.0,62.0 C907.8,61.2 908.3,61.2 909.0,61.4 C909.7,61.6 910.4,60.7 911.0,63.0 C911.6,65.3 911.4,71.1 912.7,75.0 C914.0,78.9 915.9,83.1 919.0,86.4 C922.1,89.7 927.2,93.3 931.6,95.0 C936.0,96.7 938.8,96.7 945.2,96.8 C951.7,96.9 961.2,96.1 970.3,95.5 C979.4,94.9 992.0,93.5 1000.0,93.0 C1008.0,92.5 1009.8,92.3 1018.0,92.2 C1026.2,92.1 1039.0,92.3 1049.0,92.2 C1059.0,92.1 1069.8,92.4 1077.7,91.6 C1085.6,90.8 1090.9,89.4 1096.6,87.5 C1102.3,85.6 1108.0,82.4 1111.7,80.0 C1115.4,77.6 1116.8,75.5 1119.0,73.0 C1121.2,70.5 1123.2,69.4 1125.1,65.0 C1126.9,60.6 1128.0,50.9 1130.1,46.5 C1132.2,42.1 1134.8,38.6 1137.7,38.4 C1140.6,38.2 1143.9,43.0 1147.7,45.3 C1151.5,47.6 1156.1,50.6 1160.3,52.2 C1164.5,53.8 1168.0,54.3 1172.9,54.7 C1177.9,55.1 1186.3,54.7 1190.0,54.7 C1193.7,54.7 1191.2,55.6 1195.2,54.6 C1199.2,53.6 1209.3,51.2 1214.1,48.9 C1218.9,46.6 1222.5,42.3 1224.2,41.0 L1224.2,41.0 C1224.4,42.7 1226.0,46.9 1225.4,51.4 C1224.8,55.9 1222.5,63.3 1220.4,67.8 C1218.3,72.3 1216.0,75.8 1212.8,78.5 C1209.6,81.2 1205.5,82.5 1201.5,84.0 C1197.5,85.5 1194.1,86.2 1188.9,87.5 C1183.7,88.8 1175.5,90.2 1170.3,91.5 C1165.1,92.8 1161.9,93.8 1157.7,95.0 C1153.5,96.2 1149.4,97.5 1145.2,99.0 C1141.0,100.5 1136.8,102.5 1132.6,104.3 C1128.4,106.1 1124.4,108.3 1120.0,109.7 C1115.6,111.1 1113.0,111.7 1106.0,112.8 C1099.0,113.9 1088.7,115.5 1077.7,116.5 C1066.7,117.5 1051.0,118.2 1040.0,119.0 C1029.0,119.8 1016.2,120.7 1011.5,121.0" stroke="#ff00ff" />
<path d="M1012.0,112.7 C1009.0,113.3 1000.4,114.9 994.3,116.1 C988.2,117.2 981.2,118.4 975.5,119.6 C969.8,120.8 964.2,121.7 960.0,123.1 C955.8,124.5 953.5,125.8 950.0,128.2 C946.5,130.6 942.1,134.4 939.3,137.7 C936.5,141.0 935.2,144.6 933.2,148.2 C931.2,151.8 929.5,155.4 927.6,159.1 C925.7,162.8 923.7,166.1 922.0,170.4 C920.3,174.7 918.8,179.7 917.2,185.0 C915.6,190.3 914.0,196.2 912.6,202.0 C911.2,207.8 910.2,210.7 908.7,220.0 C907.2,229.3 905.2,246.9 903.5,257.7 C901.8,268.5 899.5,278.1 898.5,285.0 C897.5,291.9 898.5,292.9 897.5,299.4 C896.5,305.9 894.0,318.2 892.8,324.0 C891.5,329.8 890.8,331.6 890.0,334.0 C889.2,336.4 888.9,338.1 888.1,338.1 C887.4,338.1 886.4,335.7 885.5,334.0 C884.6,332.3 884.3,330.9 882.5,327.7 C880.7,324.4 877.7,317.3 874.9,314.5 C872.1,311.7 868.6,312.1 865.5,310.8 C862.4,309.6 859.1,308.1 856.0,307.0 C852.9,305.9 849.7,304.2 846.6,304.2 C843.5,304.2 841.0,304.6 837.2,307.0 C833.4,309.4 828.7,314.2 824.0,318.3 C819.3,322.4 812.8,328.1 808.9,331.5 C805.0,334.9 802.1,337.8 800.7,339.0 L800.7,339.0 C800.8,335.0 801.0,323.2 801.5,315.0 C802.0,306.8 803.0,295.4 803.5,290.0 C804.0,284.6 803.0,288.8 804.2,282.3 C805.4,275.8 808.1,260.2 810.5,250.8 C812.9,241.4 815.4,234.0 818.3,225.6 C821.2,217.2 823.6,208.8 827.8,200.4 C832.0,192.0 838.5,181.8 843.5,175.2 C848.5,168.5 853.4,164.9 858.0,160.5 C862.6,156.1 867.1,152.6 871.0,149.0 C874.9,145.4 878.4,143.1 881.5,139.0 C884.6,134.9 887.7,128.9 889.5,124.5 C891.3,120.1 891.5,116.7 892.5,112.6 C893.5,108.5 894.2,104.6 895.2,100.0 C896.2,95.4 897.2,91.9 898.6,85.2 C900.0,78.5 902.3,66.0 903.6,60.0 C904.9,54.0 905.5,51.8 906.5,49.5 C907.5,47.2 908.5,46.1 909.5,46.3 C910.5,46.5 911.4,48.2 912.3,50.5 C913.2,52.8 913.9,55.8 915.0,60.0 C916.1,64.2 917.0,71.8 918.7,76.0 C920.4,80.2 921.8,82.7 925.0,85.0 C928.2,87.3 932.4,88.8 937.9,89.8 C943.4,90.8 950.2,91.2 957.7,91.3 C965.2,91.4 975.9,90.7 982.9,90.3 C989.9,89.9 990.5,89.4 1000.0,89.0 C1009.5,88.6 1027.0,88.1 1040.0,88.0 C1053.0,87.9 1068.3,89.0 1077.7,88.3 C1087.1,87.6 1090.9,85.3 1096.6,83.6 C1102.3,81.9 1108.2,80.2 1111.7,77.9 C1115.2,75.6 1115.6,72.3 1117.4,70.0 C1119.2,67.7 1121.1,67.5 1122.6,64.0 C1124.1,60.5 1124.9,54.6 1126.4,49.0 C1127.9,43.4 1129.5,34.8 1131.4,30.2 C1133.3,25.6 1135.0,21.2 1137.7,21.6 C1140.4,22.0 1143.9,29.2 1147.7,32.7 C1151.5,36.2 1156.1,40.1 1160.3,42.7 C1164.5,45.3 1168.0,47.0 1172.9,48.2 C1177.9,49.4 1186.3,50.0 1190.0,50.1 C1193.7,50.2 1191.2,49.7 1195.2,48.9 C1199.2,48.1 1209.3,46.6 1214.1,45.1 C1218.9,43.6 1222.5,40.9 1224.2,40.0 L1224.2,40.0 C1224.3,40.7 1225.3,41.8 1225.0,44.0 C1224.7,46.2 1223.8,49.8 1222.5,53.0 C1221.2,56.2 1220.0,59.7 1217.5,63.0 C1215.0,66.3 1211.2,70.3 1207.5,73.0 C1203.8,75.7 1199.1,77.5 1195.0,79.0 C1190.9,80.5 1187.0,81.0 1182.9,82.3 C1178.8,83.5 1174.5,84.9 1170.3,86.5 C1166.1,88.1 1161.9,90.2 1157.7,92.0 C1153.5,93.8 1149.4,95.2 1145.2,97.0 C1141.0,98.8 1136.8,101.1 1132.6,103.0 C1128.4,104.9 1124.4,107.2 1120.0,108.6 C1115.6,110.0 1113.0,110.5 1106.0,111.6 C1099.0,112.7 1088.7,114.1 1077.7,115.0 C1066.7,115.9 1051.0,116.4 1040.0,117.0 C1029.0,117.6 1016.2,118.5 1011.5,118.8" stroke="#008000" />
<path d="M1012.0,113.0 C1009.0,113.6 1000.4,115.3 994.3,116.5 C988.2,117.7 981.2,118.8 975.5,120.0 C969.8,121.2 964.2,122.2 960.0,123.7 C955.8,125.2 953.8,126.5 950.5,129.0 C947.2,131.5 942.8,135.2 940.0,138.5 C937.2,141.8 935.9,145.4 934.0,149.0 C932.1,152.6 930.3,156.3 928.5,160.0 C926.7,163.7 924.7,166.8 923.0,171.0 C921.3,175.2 919.9,179.8 918.3,185.0 C916.7,190.2 915.0,196.2 913.5,202.0 C912.0,207.8 911.0,210.7 909.5,220.0 C908.0,229.3 906.0,246.0 904.3,257.7 C902.6,269.4 900.8,279.9 899.4,290.0 C898.0,300.1 897.0,308.9 895.7,318.3 C894.5,327.7 892.9,340.2 891.9,346.6 C890.9,353.1 890.3,354.3 889.5,357.0 C888.7,359.7 888.0,362.4 887.2,362.6 C886.4,362.8 885.3,359.7 884.5,358.0 C883.7,356.3 883.8,355.3 882.5,352.3 C881.2,349.3 879.0,343.0 876.8,340.0 C874.6,337.0 871.4,335.8 869.2,334.3 C867.0,332.8 865.8,332.7 863.6,331.0 C861.4,329.3 858.5,325.6 856.0,324.0 C853.5,322.4 851.3,321.1 848.5,321.1 C845.7,321.1 842.5,321.9 839.0,324.0 C835.5,326.1 831.8,329.6 827.7,333.4 C823.6,337.2 818.9,341.9 814.5,346.6 C810.1,351.3 804.0,358.6 801.3,361.7 C798.6,364.8 798.9,364.7 798.4,365.3 L798.4,365.3 C798.6,359.4 799.1,340.9 799.8,330.0 C800.5,319.1 801.5,306.9 802.5,300.0 C803.5,293.1 804.1,295.8 805.7,288.6 C807.3,281.5 809.6,266.6 812.0,257.1 C814.4,247.7 816.8,240.3 819.9,231.9 C823.0,223.5 826.4,215.1 830.9,206.7 C835.4,198.3 841.8,188.8 846.7,181.5 C851.6,174.2 856.0,168.2 860.4,163.0 C864.8,157.8 869.2,154.1 873.0,150.3 C876.8,146.5 880.2,144.5 883.1,140.3 C886.0,136.1 888.9,129.8 890.6,125.2 C892.3,120.6 892.2,116.8 893.1,112.6 C894.0,108.4 894.7,104.6 895.7,100.0 C896.7,95.4 897.5,91.9 898.9,85.2 C900.3,78.5 902.6,65.9 903.9,60.0 C905.2,54.1 905.6,52.6 906.5,50.0 C907.4,47.4 908.5,44.5 909.5,44.5 C910.5,44.5 911.5,47.4 912.5,50.0 C913.5,52.6 914.2,56.0 915.3,60.0 C916.4,64.0 917.3,70.1 919.0,74.0 C920.7,77.9 922.1,81.0 925.3,83.5 C928.4,86.0 932.5,88.2 937.9,89.3 C943.3,90.4 950.2,90.1 957.7,90.0 C965.2,89.9 975.9,89.0 982.9,88.5 C989.9,88.0 994.1,87.4 1000.0,87.0 C1005.9,86.6 1011.3,86.1 1018.0,86.0 C1024.7,85.9 1030.0,86.3 1040.0,86.5 C1050.0,86.7 1068.3,88.0 1077.7,87.3 C1087.1,86.6 1090.9,84.4 1096.6,82.5 C1102.3,80.6 1108.2,78.4 1111.7,76.0 C1115.2,73.6 1115.8,70.4 1117.4,68.0 C1119.0,65.6 1119.8,66.2 1121.3,61.6 C1122.8,57.0 1124.7,46.9 1126.4,40.2 C1128.1,33.5 1129.5,25.8 1131.4,21.4 C1133.3,17.0 1135.6,14.2 1137.7,13.8 C1139.8,13.4 1141.7,16.3 1144.0,19.0 C1146.3,21.7 1148.8,26.9 1151.5,30.2 C1154.2,33.5 1157.1,36.6 1160.3,39.0 C1163.5,41.4 1167.1,43.3 1170.4,44.4 C1173.8,45.5 1176.3,45.6 1180.4,45.7 C1184.5,45.8 1190.0,45.7 1195.2,45.1 C1200.4,44.5 1206.8,43.1 1211.6,42.0 C1216.4,40.9 1222.1,38.8 1224.2,38.2 L1224.2,38.2 C1224.4,38.5 1225.6,38.1 1225.4,40.1 C1225.2,42.1 1224.2,46.9 1222.9,50.2 C1221.7,53.6 1220.4,56.9 1217.9,60.2 C1215.4,63.6 1211.6,67.6 1207.8,70.3 C1204.0,73.0 1199.2,74.7 1195.0,76.3 C1190.8,77.9 1187.0,78.4 1182.9,79.8 C1178.8,81.2 1174.5,82.8 1170.3,84.5 C1166.1,86.2 1161.9,88.2 1157.7,90.0 C1153.5,91.8 1149.4,93.1 1145.2,95.0 C1141.0,96.9 1136.8,99.5 1132.6,101.5 C1128.4,103.5 1124.4,105.8 1120.0,107.3 C1115.6,108.8 1113.0,109.2 1106.0,110.3 C1099.0,111.4 1088.7,112.9 1077.7,113.8 C1066.7,114.7 1051.0,115.2 1040.0,115.8 C1029.0,116.4 1016.2,117.2 1011.5,117.5" stroke="#000080" />
</g>
<rect x="79.8" y="7.0" width="532.8000000000001" height="394.8" fill="none" stroke="#000" stroke-width="3"/>
<line x1="70.3" y1="33.5" x2="79.8" y2="33.5" stroke="#000" stroke-width="2.6"/>
<text x="66.3" y="41.0" font-family="Liberation Serif" font-weight="bold" font-size="23" text-anchor="end">10</text>
<line x1="70.3" y1="121.3" x2="79.8" y2="121.3" stroke="#000" stroke-width="2.6"/>
<text x="66.3" y="128.8" font-family="Liberation Serif" font-weight="bold" font-size="23" text-anchor="end">0</text>
<line x1="70.3" y1="209.1" x2="79.8" y2="209.1" stroke="#000" stroke-width="2.6"/>
<text x="66.3" y="216.6" font-family="Liberation Serif" font-weight="bold" font-size="23" text-anchor="end">-10</text>
<line x1="70.3" y1="296.9" x2="79.8" y2="296.9" stroke="#000" stroke-width="2.6"/>
<text x="66.3" y="304.4" font-family="Liberation Serif" font-weight="bold" font-size="23" text-anchor="end">-20</text>
<line x1="70.3" y1="384.7" x2="79.8" y2="384.7" stroke="#000" stroke-width="2.6"/>
<text x="66.3" y="392.2" font-family="Liberation Serif" font-weight="bold" font-size="23" text-anchor="end">-30</text>
<line x1="74.8" y1="77.4" x2="79.8" y2="77.4" stroke="#000" stroke-width="2.6"/>
<line x1="74.8" y1="165.2" x2="79.8" y2="165.2" stroke="#000" stroke-width="2.6"/>
<line x1="74.8" y1="253.0" x2="79.8" y2="253.0" stroke="#000" stroke-width="2.6"/>
<line x1="74.8" y1="340.8" x2="79.8" y2="340.8" stroke="#000" stroke-width="2.6"/>
<line x1="127.4" y1="401.8" x2="127.4" y2="410.8" stroke="#000" stroke-width="2.6"/>
<text x="127.4" y="432.6" font-family="Liberation Serif" font-weight="bold" font-size="23" text-anchor="middle">-1.0</text>
<line x1="224.4" y1="401.8" x2="224.4" y2="410.8" stroke="#000" stroke-width="2.6"/>
<text x="224.4" y="432.6" font-family="Liberation Serif" font-weight="bold" font-size="23" text-anchor="middle">-0.5</text>
<line x1="321.4" y1="401.8" x2="321.4" y2="410.8" stroke="#000" stroke-width="2.6"/>
<text x="321.4" y="432.6" font-family="Liberation Serif" font-weight="bold" font-size="23" text-anchor="middle">0.0</text>
<line x1="418.4" y1="401.8" x2="418.4" y2="410.8" stroke="#000" stroke-width="2.6"/>
<text x="418.4" y="432.6" font-family="Liberation Serif" font-weight="bold" font-size="23" text-anchor="middle">0.5</text>
<line x1="515.4" y1="401.8" x2="515.4" y2="410.8" stroke="#000" stroke-width="2.6"/>
<text x="515.4" y="432.6" font-family="Liberation Serif" font-weight="bold" font-size="23" text-anchor="middle">1.0</text>
<line x1="612.4" y1="401.8" x2="612.4" y2="410.8" stroke="#000" stroke-width="2.6"/>
<text x="612.4" y="432.6" font-family="Liberation Serif" font-weight="bold" font-size="23" text-anchor="middle">1.5</text>
<line x1="78.9" y1="401.8" x2="78.9" y2="406.8" stroke="#000" stroke-width="2.6"/>
<line x1="175.9" y1="401.8" x2="175.9" y2="406.8" stroke="#000" stroke-width="2.6"/>
<line x1="272.9" y1="401.8" x2="272.9" y2="406.8" stroke="#000" stroke-width="2.6"/>
<line x1="369.9" y1="401.8" x2="369.9" y2="406.8" stroke="#000" stroke-width="2.6"/>
<line x1="466.9" y1="401.8" x2="466.9" y2="406.8" stroke="#000" stroke-width="2.6"/>
<line x1="563.9" y1="401.8" x2="563.9" y2="406.8" stroke="#000" stroke-width="2.6"/>
<text x="231" y="465.5" font-family="Liberation Serif" font-weight="bold" font-size="32"><tspan font-style="italic">E</tspan> <tspan font-style="italic">/</tspan> V vs Ag/AgCl</text>
<text transform="translate(24,244.5) rotate(-90)" font-family="Liberation Serif" font-weight="bold" font-size="31" letter-spacing="-0.6"><tspan font-style="italic">I</tspan> <tspan font-style="italic">/</tspan> µA</text>
<text x="109.5" y="56" font-family="Liberation Serif" font-weight="bold" font-size="30">A</text>
<rect x="420" y="129.2" width="172" height="268.5" fill="#fff" stroke="#7a7a7a" stroke-width="2"/>
<line x1="427.5" y1="179.6" x2="482" y2="179.6" stroke="#000000" stroke-width="3"/>
<text x="488" y="187.9" font-family="Liberation Serif" font-weight="bold" font-size="24">10mV.s<tspan font-size="14" dx="0.5" dy="-14">-1</tspan></text>
<line x1="427.5" y1="214.5" x2="482" y2="214.5" stroke="#ff0000" stroke-width="3"/>
<text x="488" y="222.8" font-family="Liberation Serif" font-weight="bold" font-size="24">20mV.s<tspan font-size="14" dx="0.5" dy="-14">-1</tspan></text>
<line x1="427.5" y1="249.4" x2="482" y2="249.4" stroke="#0000ff" stroke-width="3"/>
<text x="488" y="257.7" font-family="Liberation Serif" font-weight="bold" font-size="24">30mV.s<tspan font-size="14" dx="0.5" dy="-14">-1</tspan></text>
<line x1="427.5" y1="284.3" x2="482" y2="284.3" stroke="#ff00ff" stroke-width="3"/>
<text x="488" y="292.6" font-family="Liberation Serif" font-weight="bold" font-size="24">40mV.s<tspan font-size="14" dx="0.5" dy="-14">-1</tspan></text>
<line x1="427.5" y1="319.2" x2="482" y2="319.2" stroke="#008000" stroke-width="3"/>
<text x="488" y="327.5" font-family="Liberation Serif" font-weight="bold" font-size="24">60mV.s<tspan font-size="14" dx="0.5" dy="-14">-1</tspan></text>
<line x1="427.5" y1="354.1" x2="482" y2="354.1" stroke="#000080" stroke-width="3"/>
<text x="488" y="362.4" font-family="Liberation Serif" font-weight="bold" font-size="24">100mV.s<tspan font-size="14" dx="0.5" dy="-14">-1</tspan></text>
<rect x="745.0" y="6.8" width="532.8" height="395.0" fill="none" stroke="#000" stroke-width="3"/>
<line x1="735.5" y1="6.9" x2="745.0" y2="6.9" stroke="#000" stroke-width="2.6"/>
<text x="731.5" y="14.4" font-family="Liberation Serif" font-weight="bold" font-size="23" text-anchor="end">10</text>
<line x1="735.5" y1="59.6" x2="745.0" y2="59.6" stroke="#000" stroke-width="2.6"/>
<text x="731.5" y="67.1" font-family="Liberation Serif" font-weight="bold" font-size="23" text-anchor="end">5</text>
<line x1="735.5" y1="112.3" x2="745.0" y2="112.3" stroke="#000" stroke-width="2.6"/>
<text x="731.5" y="119.8" font-family="Liberation Serif" font-weight="bold" font-size="23" text-anchor="end">0</text>
<line x1="735.5" y1="165.0" x2="745.0" y2="165.0" stroke="#000" stroke-width="2.6"/>
<text x="731.5" y="172.5" font-family="Liberation Serif" font-weight="bold" font-size="23" text-anchor="end">-5</text>
<line x1="735.5" y1="217.7" x2="745.0" y2="217.7" stroke="#000" stroke-width="2.6"/>
<text x="731.5" y="225.2" font-family="Liberation Serif" font-weight="bold" font-size="23" text-anchor="end">-10</text>
<line x1="735.5" y1="270.4" x2="745.0" y2="270.4" stroke="#000" stroke-width="2.6"/>
<text x="731.5" y="277.9" font-family="Liberation Serif" font-weight="bold" font-size="23" text-anchor="end">-15</text>
<line x1="735.5" y1="323.1" x2="745.0" y2="323.1" stroke="#000" stroke-width="2.6"/>
<text x="731.5" y="330.6" font-family="Liberation Serif" font-weight="bold" font-size="23" text-anchor="end">-20</text>
<line x1="735.5" y1="375.8" x2="745.0" y2="375.8" stroke="#000" stroke-width="2.6"/>
<text x="731.5" y="383.3" font-family="Liberation Serif" font-weight="bold" font-size="23" text-anchor="end">-25</text>
<line x1="740.0" y1="33.2" x2="745.0" y2="33.2" stroke="#000" stroke-width="2.6"/>
<line x1="740.0" y1="86.0" x2="745.0" y2="86.0" stroke="#000" stroke-width="2.6"/>
<line x1="740.0" y1="138.7" x2="745.0" y2="138.7" stroke="#000" stroke-width="2.6"/>
<line x1="740.0" y1="191.3" x2="745.0" y2="191.3" stroke="#000" stroke-width="2.6"/>
<line x1="740.0" y1="244.1" x2="745.0" y2="244.1" stroke="#000" stroke-width="2.6"/>
<line x1="740.0" y1="296.8" x2="745.0" y2="296.8" stroke="#000" stroke-width="2.6"/>
<line x1="740.0" y1="349.4" x2="745.0" y2="349.4" stroke="#000" stroke-width="2.6"/>
<line x1="740.0" y1="402.1" x2="745.0" y2="402.1" stroke="#000" stroke-width="2.6"/>
<line x1="798.3" y1="401.8" x2="798.3" y2="410.8" stroke="#000" stroke-width="2.6"/>
<text x="798.3" y="432.6" font-family="Liberation Serif" font-weight="bold" font-size="23" text-anchor="middle">-1.0</text>
<line x1="904.9" y1="401.8" x2="904.9" y2="410.8" stroke="#000" stroke-width="2.6"/>
<text x="904.9" y="432.6" font-family="Liberation Serif" font-weight="bold" font-size="23" text-anchor="middle">-0.5</text>
<line x1="1011.5" y1="401.8" x2="1011.5" y2="410.8" stroke="#000" stroke-width="2.6"/>
<text x="1011.5" y="432.6" font-family="Liberation Serif" font-weight="bold" font-size="23" text-anchor="middle">0.0</text>
<line x1="1118.1" y1="401.8" x2="1118.1" y2="410.8" stroke="#000" stroke-width="2.6"/>
<text x="1118.1" y="432.6" font-family="Liberation Serif" font-weight="bold" font-size="23" text-anchor="middle">0.5</text>
<line x1="1224.7" y1="401.8" x2="1224.7" y2="410.8" stroke="#000" stroke-width="2.6"/>
<text x="1224.7" y="432.6" font-family="Liberation Serif" font-weight="bold" font-size="23" text-anchor="middle">1.0</text>
<line x1="745.0" y1="401.8" x2="745.0" y2="406.8" stroke="#000" stroke-width="2.6"/>
<line x1="851.6" y1="401.8" x2="851.6" y2="406.8" stroke="#000" stroke-width="2.6"/>
<line x1="958.2" y1="401.8" x2="958.2" y2="406.8" stroke="#000" stroke-width="2.6"/>
<line x1="1064.8" y1="401.8" x2="1064.8" y2="406.8" stroke="#000" stroke-width="2.6"/>
<line x1="1171.4" y1="401.8" x2="1171.4" y2="406.8" stroke="#000" stroke-width="2.6"/>
<text x="897.5" y="469.5" font-family="Liberation Serif" font-weight="bold" font-size="32"><tspan font-style="italic">E</tspan> / V vs Ag/AgCl</text>
<text transform="translate(684.6,238.5) rotate(-90)" font-family="Liberation Serif" font-weight="bold" font-size="31" letter-spacing="0"><tspan font-style="italic">I</tspan> <tspan font-style="italic">/</tspan> µA</text>
<text x="776.5" y="54.5" font-family="Liberation Serif" font-weight="bold" font-size="30">B</text>
<rect x="1063.6" y="150" width="158.6" height="186.2" fill="#fff" stroke="#7a7a7a" stroke-width="2"/>
<line x1="1070.5" y1="167.9" x2="1126" y2="167.9" stroke="#000000" stroke-width="3"/>
<text x="1131" y="175.4" font-family="Liberation Serif" font-weight="bold" font-size="24">0.1mM</text>
<line x1="1070.5" y1="198.9" x2="1126" y2="198.9" stroke="#ff0000" stroke-width="3"/>
<text x="1131" y="206.4" font-family="Liberation Serif" font-weight="bold" font-size="24">0.15mM</text>
<line x1="1070.5" y1="229.9" x2="1126" y2="229.9" stroke="#0000ff" stroke-width="3"/>
<text x="1131" y="237.4" font-family="Liberation Serif" font-weight="bold" font-size="24">0.2mM</text>
<line x1="1070.5" y1="261.0" x2="1126" y2="261.0" stroke="#ff00ff" stroke-width="3"/>
<text x="1131" y="268.5" font-family="Liberation Serif" font-weight="bold" font-size="24">0.25mM</text>
<line x1="1070.5" y1="292.0" x2="1126" y2="292.0" stroke="#008000" stroke-width="3"/>
<text x="1131" y="299.5" font-family="Liberation Serif" font-weight="bold" font-size="24">0.33mM</text>
<line x1="1070.5" y1="323.0" x2="1126" y2="323.0" stroke="#000080" stroke-width="3"/>
<text x="1131" y="330.5" font-family="Liberation Serif" font-weight="bold" font-size="24">0.4mM</text>
</svg>
</body></html>
